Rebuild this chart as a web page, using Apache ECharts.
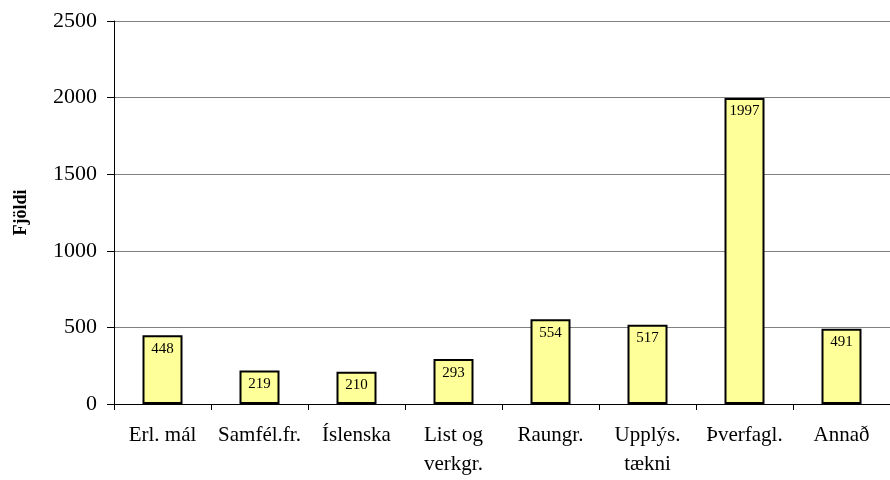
<!DOCTYPE html>
<html>
<head>
<meta charset="utf-8">
<script src="https://cdn.jsdelivr.net/npm/echarts@6/dist/echarts.min.js"></script>
<style>
  html, body { margin: 0; padding: 0; background: #fff; }
  #chart { width: 890px; height: 480px; }
</style>
</head>
<body>
<div id="chart"></div>
<script>
// gögn úr myndinni
const categories = ['Erl. mál', 'Samfél.fr.', 'Íslenska', 'List og\nverkgr.', 'Raungr.', 'Upplýs.\ntækni', 'Þverfagl.', 'Annað']
const values = [448, 219, 210, 293, 554, 517, 1997, 491]
const yTicks = [0, 500, 1000, 1500, 2000, 2500]

const serif = '"Liberation Serif", "DejaVu Serif", serif'

const chart = echarts.init(document.getElementById('chart'))

const option = {
  animation: false,
  grid: {
    left: 114,
    top: 21,
    bottom: 76,
    width: 780
  },
  xAxis: {
    type: 'category',
    data: categories,
    axisLine: { lineStyle: { color: '#000', width: 1 } },
    axisTick: { show: true, length: 6, lineStyle: { color: '#000' } },
    axisLabel: {
      color: '#000',
      fontFamily: serif,
      fontSize: 21,
      margin: 17,
      lineHeight: 29,
      interval: 0
    }
  },
  yAxis: {
    type: 'value',
    min: yTicks[0],
    max: yTicks[yTicks.length - 1],
    interval: 500,
    name: 'Fjöldi',
    nameLocation: 'middle',
    nameGap: 84,
    nameTextStyle: {
      color: '#000',
      fontFamily: serif,
      fontSize: 18,
      fontWeight: 'bold'
    },
    axisLine: { show: true, lineStyle: { color: '#000', width: 1 } },
    axisTick: { show: true, length: 7, lineStyle: { color: '#000' } },
    axisLabel: {
      color: '#000',
      fontFamily: serif,
      fontSize: 22,
      margin: 17,
      formatter: (v) => String(v)
    },
    splitLine: { lineStyle: { color: '#808080', width: 1 } }
  },
  series: [
    {
      type: 'bar',
      data: values,
      barWidth: 40,
      itemStyle: {
        color: '#FFFF99',
        borderColor: '#000',
        borderWidth: 2
      },
      label: {
        show: true,
        position: 'insideTop',
        distance: 6,
        color: '#000',
        fontFamily: serif,
        fontSize: 15
      }
    }
  ]
}

option && chart.setOption(option)
</script>
</body>
</html>
